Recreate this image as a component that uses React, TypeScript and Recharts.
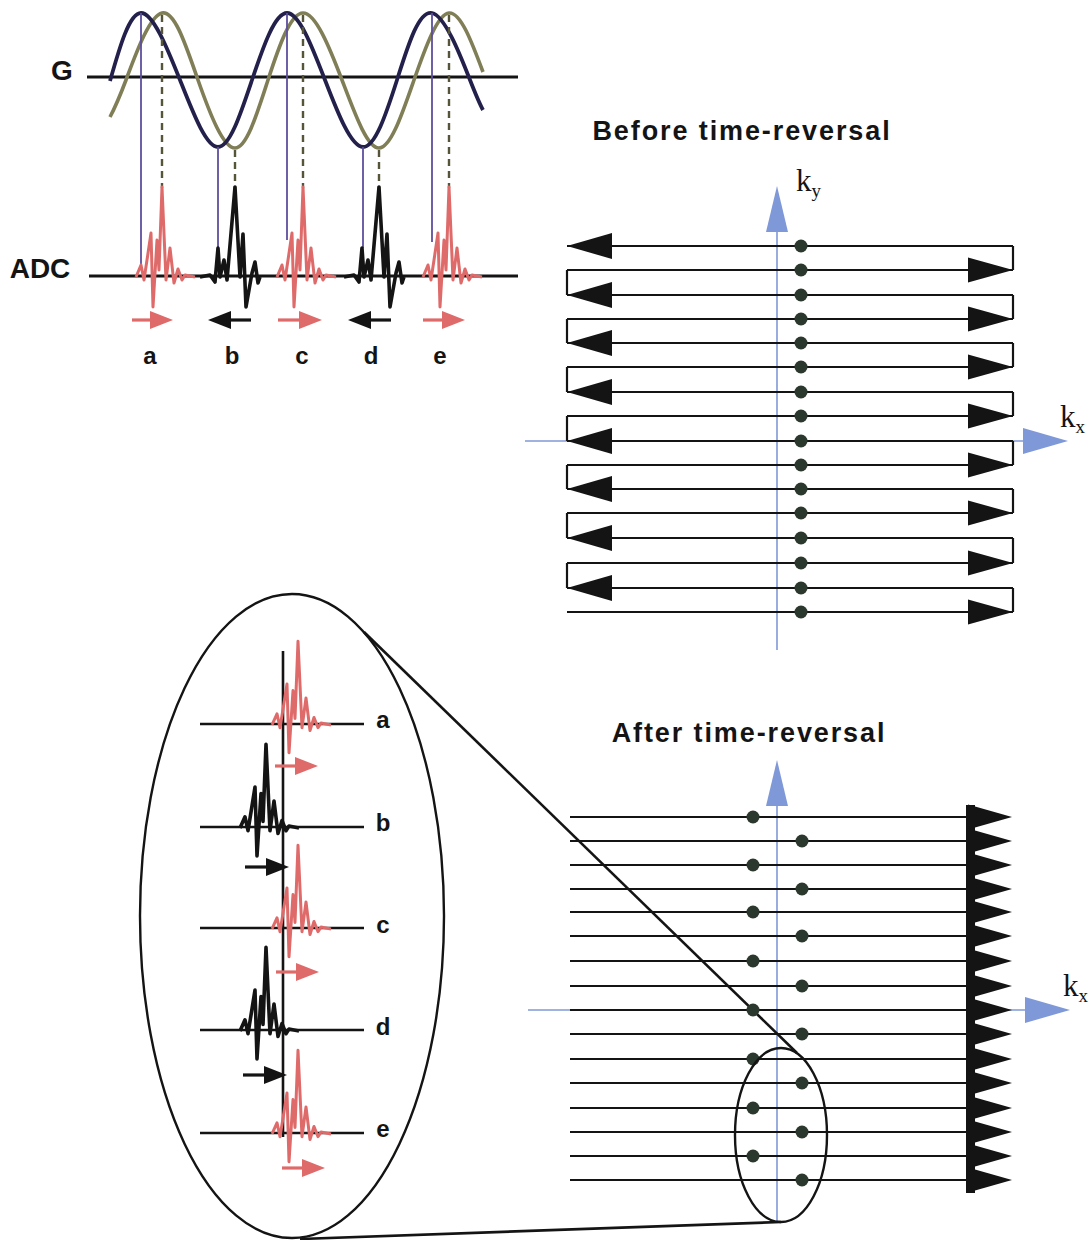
import React from 'react';
import { ComposedChart, XAxis, YAxis, Line, Scatter, ReferenceLine, ReferenceArea } from 'recharts';

type P = { x: number; y: number };

const CHART_W = 1092;
const CHART_H = 1240;

// ---------------- colours ----------------
const RED = '#de6a6a';
const INK = '#141414';
const NAVY = '#23214c';
const OLIVE = '#7f7e56';
const PURPLE = '#5e4f9e';
const DASH = '#56553a';
const BLUE = '#7f98d8';
const DOT = '#2b382d';
const SANS = '"Liberation Sans", Arial, Helvetica, sans-serif';
const SERIF = '"Liberation Serif", "Times New Roman", serif';

// ---------------- gradient (G) panel ----------------
const GRAD_LEAD: P[] = [
  { x: 110, y: 81 }, { x: 141, y: 13 }, { x: 180, y: 80 }, { x: 218, y: 147 }, { x: 252, y: 80 },
  { x: 287, y: 13 }, { x: 325, y: 80 }, { x: 363, y: 147 }, { x: 397, y: 80 }, { x: 432, y: 13 },
  { x: 470, y: 80 }, { x: 483, y: 110 },
];
const GRAD_LAG: P[] = [
  { x: 110, y: 117 }, { x: 126, y: 80 }, { x: 162, y: 13 }, { x: 198, y: 80 }, { x: 235, y: 148 },
  { x: 268, y: 80 }, { x: 303, y: 13 }, { x: 342, y: 80 }, { x: 379, y: 148 }, { x: 414, y: 80 },
  { x: 449, y: 13 }, { x: 483, y: 72 },
];
const G_AXIS: P[] = [{ x: 87, y: 77 }, { x: 518, y: 77 }];
const ADC_AXIS: P[] = [{ x: 89, y: 276 }, { x: 518, y: 276 }];

// sampling markers: solid (leading wave) and dashed (lagging wave)
const SAMPLE_SOLID = [
  { x: 141, top: 13, bottom: 265 },
  { x: 218, top: 147, bottom: 248 },
  { x: 287, top: 13, bottom: 240 },
  { x: 363, top: 147, bottom: 248 },
  { x: 432, top: 13, bottom: 242 },
];
const SAMPLE_DASHED = [
  { x: 162, top: 15, bottom: 188 },
  { x: 235, top: 150, bottom: 188 },
  { x: 303, top: 15, bottom: 188 },
  { x: 379, top: 150, bottom: 188 },
  { x: 449, top: 15, bottom: 188 },
];

// echo shapes: offsets from the main peak (dx) and from the baseline (dy)
const ECHO_FWD: [number, number][] = [
  [-26, 1], [-21, -11], [-18, 4], [-15, -16], [-11, -43], [-9, 31], [-5, -36], [-3, -6],
  [0, -89], [4, 4], [8, -28], [12, 7], [16, -7], [20, 4], [23, -1], [33, 1],
];
const ECHO_REV: [number, number][] = [
  [-35, 1], [-25, -1], [-20, 6], [-17, -28], [-15, 1], [-11, -16], [-8, 4], [0, -89],
  [5, 1], [8, -42], [11, 31], [17, -3], [20, -14], [23, 7], [25, 1],
];

const ADC_ECHOES = [
  { x: 162, y: 276, amp: 1, shape: 'fwd', ink: 'red' },
  { x: 235, y: 276, amp: 1, shape: 'rev', ink: 'black' },
  { x: 303, y: 276, amp: 1, shape: 'fwd', ink: 'red' },
  { x: 379, y: 276, amp: 1, shape: 'rev', ink: 'black' },
  { x: 449, y: 276, amp: 1, shape: 'fwd', ink: 'red' },
];
const ADC_ARROWS = [
  { tail: 132, tip: 173, y: 320, ink: 'red' },
  { tail: 251, tip: 208, y: 320, ink: 'black' },
  { tail: 278, tip: 322, y: 320, ink: 'red' },
  { tail: 391, tip: 348, y: 320, ink: 'black' },
  { tail: 423, tip: 465, y: 320, ink: 'red' },
];
const ADC_LETTERS = [
  { x: 150, y: 364, text: 'a' },
  { x: 232, y: 364, text: 'b' },
  { x: 302, y: 364, text: 'c' },
  { x: 371, y: 364, text: 'd' },
  { x: 440, y: 364, text: 'e' },
];
const PANEL_LABELS = [
  { x: 62, y: 80, text: 'G' },
  { x: 40, y: 278, text: 'ADC' },
];

// ---------------- magnified inset ----------------
const INSET_BASELINES = [724, 827, 928, 1030, 1133];
const INSET_X = [200, 364];
const INSET_SPINE: P[] = [{ x: 283, y: 651 }, { x: 283, y: 1137 }];
const INSET_ECHOES = [
  { x: 298, y: 724, amp: 0.93, shape: 'fwd', ink: 'red' },
  { x: 266, y: 827, amp: 0.93, shape: 'fwd', ink: 'black' },
  { x: 298, y: 928, amp: 0.93, shape: 'fwd', ink: 'red' },
  { x: 266, y: 1030, amp: 0.93, shape: 'fwd', ink: 'black' },
  { x: 298, y: 1133, amp: 0.93, shape: 'fwd', ink: 'red' },
];
const INSET_ARROWS = [
  { tail: 275, tip: 318, y: 766, ink: 'red' },
  { tail: 245, tip: 289, y: 867, ink: 'black' },
  { tail: 276, tip: 319, y: 972, ink: 'red' },
  { tail: 243, tip: 287, y: 1075, ink: 'black' },
  { tail: 282, tip: 325, y: 1168, ink: 'red' },
];
const INSET_LETTERS = [
  { x: 383, y: 728, text: 'a' },
  { x: 383, y: 831, text: 'b' },
  { x: 383, y: 933, text: 'c' },
  { x: 383, y: 1035, text: 'd' },
  { x: 383, y: 1137, text: 'e' },
];
const ELLIPSES = [
  { x: 292, y: 916, rx: 152, ry: 322 },
  { x: 781, y: 1135, rx: 46, ry: 87 },
];
const ZOOM_LINES: P[][] = [
  [{ x: 364, y: 632 }, { x: 797, y: 1053 }],
  [{ x: 300, y: 1239 }, { x: 781, y: 1222 }],
];

// ---------------- k-space: before time-reversal ----------------
const BEFORE_ROWS = [246, 270, 295, 319, 343, 367, 392, 416, 441, 465, 489, 513, 538, 563, 588, 612];
const BEFORE_X = [567, 1013];
const BEFORE_DOT_X = 801;
const BEFORE_KY = { x: 777, y1: 650, y2: 230, tip: 186 };
const BEFORE_KX = { y: 441, x1: 525, x2: 1024, tip: 1068 };

// ---------------- k-space: after time-reversal ----------------
const AFTER_ROWS = [817, 841, 865, 889, 912, 936, 961, 986, 1010, 1034, 1059, 1083, 1108, 1132, 1156, 1180];
const AFTER_X = [570, 970];
const AFTER_TIP_X = 1012;
const AFTER_DOT_X = [753, 802];
const AFTER_KY = { x: 777, y1: 1222, y2: 803, tip: 760 };
const AFTER_KX = { y: 1010, x1: 528, x2: 1027, tip: 1070 };

const TITLES = [
  { x: 742, y: 140, text: 'Before time-reversal' },
  { x: 749, y: 742, text: 'After time-reversal' },
];
const K_LABELS = [
  { x: 796, y: 191, main: 'k', sub: 'y' },
  { x: 1060, y: 427, main: 'k', sub: 'x' },
  { x: 1063, y: 996, main: 'k', sub: 'x' },
];

// ---------------- helpers ----------------
const echoPoints = (e: { x: number; y: number; amp: number; shape: string }): P[] =>
  (e.shape === 'fwd' ? ECHO_FWD : ECHO_REV).map(([dx, dy]) => ({ x: e.x + dx, y: e.y + dy * e.amp }));

const inkColor = (ink: string) => (ink === 'red' ? RED : INK);

const triangle = (dir: 'left' | 'right' | 'up', len: number, half: number, fill: string) => (props: any) => {
  const { cx, cy } = props;
  if (cx == null || cy == null) return <g />;
  let pts = '';
  if (dir === 'left') pts = `${cx},${cy} ${cx + len},${cy - half} ${cx + len},${cy + half}`;
  if (dir === 'right') pts = `${cx},${cy} ${cx - len},${cy - half} ${cx - len},${cy + half}`;
  if (dir === 'up') pts = `${cx},${cy} ${cx - half},${cy + len} ${cx + half},${cy + len}`;
  return <polygon points={pts} fill={fill} />;
};

const textShape = (size: number, anchor: 'start' | 'middle' | 'end', weight: string, family: string, fill: string, spacing = 0) =>
  (props: any) => (
    <text x={props.cx} y={props.cy} fontSize={size} fontWeight={weight} fontFamily={family} fill={fill}
      textAnchor={anchor} letterSpacing={spacing}>
      {props.payload.text}
    </text>
  );

const seg = (a: P, b: P, key: string, stroke: string, width: number, dash?: string) => (
  <ReferenceLine key={key} segment={[a, b]} stroke={stroke} strokeWidth={width} strokeDasharray={dash} ifOverflow="visible" />
);

export default function App() {
  const beforeLeftArrows = BEFORE_ROWS.filter((_, i) => i % 2 === 0).map((y) => ({ x: BEFORE_X[0], y }));
  const beforeRightArrows = BEFORE_ROWS.filter((_, i) => i % 2 === 1).map((y) => ({ x: BEFORE_X[1], y }));
  const beforeDots = BEFORE_ROWS.map((y) => ({ x: BEFORE_DOT_X, y }));
  const afterTeeth = AFTER_ROWS.map((y) => ({ x: AFTER_TIP_X, y }));
  const afterDots = AFTER_ROWS.map((y, i) => ({ x: AFTER_DOT_X[i % 2], y }));
  const allArrows = [...ADC_ARROWS, ...INSET_ARROWS];

  return (
    <div style={{ position: 'absolute', left: 0, top: 0, width: CHART_W, height: CHART_H, background: '#ffffff' }}>
      <ComposedChart width={CHART_W} height={CHART_H} margin={{ top: 0, right: 0, bottom: 0, left: 0 }}>
        <XAxis type="number" dataKey="x" domain={[0, CHART_W]} allowDataOverflow hide />
        <YAxis type="number" dataKey="y" domain={[0, CHART_H]} allowDataOverflow reversed hide />

        {/* ---------- blue k-space axes ---------- */}
        {seg({ x: BEFORE_KY.x, y: BEFORE_KY.y1 }, { x: BEFORE_KY.x, y: BEFORE_KY.y2 }, 'bky', BLUE, 1.6)}
        {seg({ x: BEFORE_KX.x1, y: BEFORE_KX.y }, { x: BEFORE_KX.x2, y: BEFORE_KX.y }, 'bkx', BLUE, 1.6)}
        {seg({ x: AFTER_KY.x, y: AFTER_KY.y1 }, { x: AFTER_KY.x, y: AFTER_KY.y2 }, 'aky', BLUE, 1.6)}
        {seg({ x: AFTER_KX.x1, y: AFTER_KX.y }, { x: AFTER_KX.x2, y: AFTER_KX.y }, 'akx', BLUE, 1.6)}
        <Scatter data={[{ x: BEFORE_KY.x, y: BEFORE_KY.tip }, { x: AFTER_KY.x, y: AFTER_KY.tip }]}
          shape={triangle('up', 46, 11, BLUE)} isAnimationActive={false} />
        <Scatter data={[{ x: BEFORE_KX.tip, y: BEFORE_KX.y }, { x: AFTER_KX.tip, y: AFTER_KX.y }]}
          shape={triangle('right', 45, 13, BLUE)} isAnimationActive={false} />

        {/* ---------- before time-reversal trajectory ---------- */}
        {BEFORE_ROWS.map((y, i) => seg({ x: BEFORE_X[0], y }, { x: BEFORE_X[1], y }, `br${i}`, INK, 2.2))}
        {BEFORE_ROWS.slice(0, -1).map((y, i) =>
          seg({ x: BEFORE_X[i % 2 === 0 ? 1 : 0], y }, { x: BEFORE_X[i % 2 === 0 ? 1 : 0], y: BEFORE_ROWS[i + 1] }, `bv${i}`, INK, 2.2))}
        <Scatter data={beforeLeftArrows} shape={triangle('left', 45, 13, INK)} isAnimationActive={false} />
        <Scatter data={beforeRightArrows} shape={triangle('right', 45, 12.5, INK)} isAnimationActive={false} />
        <Scatter data={beforeDots} shape={(p: any) => <circle cx={p.cx} cy={p.cy} r={6.5} fill={DOT} />} isAnimationActive={false} />

        {/* ---------- after time-reversal trajectory ---------- */}
        {AFTER_ROWS.map((y, i) => seg({ x: AFTER_X[0], y }, { x: AFTER_X[1], y }, `ar${i}`, INK, 2.2))}
        <ReferenceArea x1={966} x2={975} y1={AFTER_ROWS[0] - 12} y2={AFTER_ROWS[AFTER_ROWS.length - 1] + 13}
          fill={INK} fillOpacity={1} stroke="none" ifOverflow="visible" />
        <Scatter data={afterTeeth} shape={triangle('right', 44, 12.5, INK)} isAnimationActive={false} />
        <Scatter data={afterDots} shape={(p: any) => <circle cx={p.cx} cy={p.cy} r={6.5} fill={DOT} />} isAnimationActive={false} />

        {/* ---------- ellipses & zoom lines ---------- */}
        <Scatter data={ELLIPSES} isAnimationActive={false}
          shape={(p: any) => <ellipse cx={p.cx} cy={p.cy} rx={p.payload.rx} ry={p.payload.ry} fill="none" stroke={INK} strokeWidth={2.4} />} />
        {ZOOM_LINES.map((l, i) => seg(l[0], l[1], `zl${i}`, INK, 2.6))}

        {/* ---------- gradient & ADC panel ---------- */}
        {seg(G_AXIS[0], G_AXIS[1], 'gax', INK, 2.8)}
        {seg(ADC_AXIS[0], ADC_AXIS[1], 'adcax', INK, 2.8)}
        <Line data={GRAD_LAG} dataKey="y" type="natural" stroke={OLIVE} strokeWidth={3.6} dot={false} isAnimationActive={false} />
        <Line data={GRAD_LEAD} dataKey="y" type="natural" stroke={NAVY} strokeWidth={3.8} dot={false} isAnimationActive={false} />
        {SAMPLE_SOLID.map((s, i) => seg({ x: s.x, y: s.top }, { x: s.x, y: s.bottom }, `ss${i}`, PURPLE, 1.8))}
        {SAMPLE_DASHED.map((s, i) => seg({ x: s.x, y: s.top }, { x: s.x, y: s.bottom }, `sd${i}`, DASH, 2.4, '7 5'))}
        {ADC_ECHOES.map((e, i) => (
          <Line key={`ae${i}`} data={echoPoints(e)} dataKey="y" type="linear" stroke={inkColor(e.ink)}
            strokeWidth={e.ink === 'red' ? 3 : 3.6} strokeLinejoin="round" dot={false} isAnimationActive={false} />
        ))}

        {/* ---------- inset ---------- */}
        {INSET_BASELINES.map((y, i) => seg({ x: INSET_X[0], y }, { x: INSET_X[1], y }, `ib${i}`, INK, 2.4))}
        {seg(INSET_SPINE[0], INSET_SPINE[1], 'spine', INK, 2.6)}
        {INSET_ECHOES.map((e, i) => (
          <Line key={`ie${i}`} data={echoPoints(e)} dataKey="y" type="linear" stroke={inkColor(e.ink)}
            strokeWidth={e.ink === 'red' ? 3 : 3.6} strokeLinejoin="round" dot={false} isAnimationActive={false} />
        ))}

        {/* ---------- small direction arrows ---------- */}
        {allArrows.map((a, i) => {
          const headBase = a.tip > a.tail ? a.tip - 20 : a.tip + 20;
          return seg({ x: a.tail, y: a.y }, { x: headBase, y: a.y }, `arw${i}`, inkColor(a.ink), 3.2);
        })}
        <Scatter data={allArrows.filter((a) => a.ink === 'red').map((a) => ({ x: a.tip, y: a.y }))}
          shape={triangle('right', 23, 9, RED)} isAnimationActive={false} />
        <Scatter data={allArrows.filter((a) => a.ink === 'black' && a.tip > a.tail).map((a) => ({ x: a.tip, y: a.y }))}
          shape={triangle('right', 23, 9, INK)} isAnimationActive={false} />
        <Scatter data={allArrows.filter((a) => a.ink === 'black' && a.tip < a.tail).map((a) => ({ x: a.tip, y: a.y }))}
          shape={triangle('left', 23, 9, INK)} isAnimationActive={false} />

        {/* ---------- text ---------- */}
        <Scatter data={PANEL_LABELS} shape={textShape(28, 'middle', 'bold', SANS, INK)} isAnimationActive={false} />
        <Scatter data={ADC_LETTERS} shape={textShape(24, 'middle', 'bold', SANS, INK)} isAnimationActive={false} />
        <Scatter data={INSET_LETTERS} shape={textShape(24, 'middle', 'bold', SANS, INK)} isAnimationActive={false} />
        <Scatter data={TITLES} shape={textShape(27, 'middle', 'bold', SANS, INK, 1.9)} isAnimationActive={false} />
        <Scatter data={K_LABELS} isAnimationActive={false}
          shape={(p: any) => (
            <text x={p.cx} y={p.cy} fontFamily={SERIF} fontSize={31} fill={INK}>
              {p.payload.main}
              <tspan fontSize={19} dy={6}>{p.payload.sub}</tspan>
            </text>
          )} />
      </ComposedChart>
    </div>
  );
}
